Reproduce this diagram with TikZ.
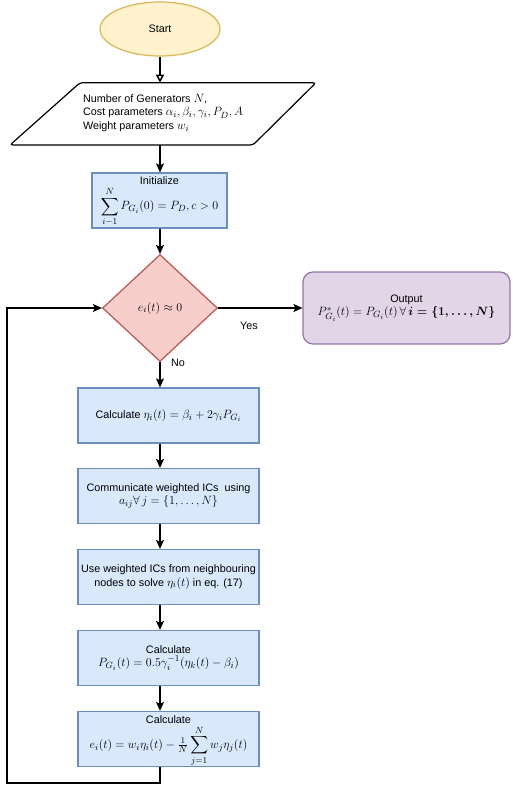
\documentclass[tikz,border=0pt]{standalone}
\usepackage{fontspec}
\setmainfont{Liberation Sans}
\usepackage{amsmath}
\usepackage{amssymb}
\DeclareMathSizes{10.8}{12.4}{9}{7}
\usetikzlibrary{shapes.geometric, arrows.meta, positioning, calc}
\definecolor{startfill}{HTML}{FFF2CC}
\definecolor{startline}{HTML}{D6B656}
\definecolor{procfill}{HTML}{DAE8FC}
\definecolor{procline}{HTML}{6C8EBF}
\definecolor{decfill}{HTML}{F8CECC}
\definecolor{decline}{HTML}{B85450}
\definecolor{outfill}{HTML}{E1D5E7}
\definecolor{outline}{HTML}{9673A6}

\begin{document}
\begin{tikzpicture}[x=1pt, y=1pt,
        txt/.style={font=\fontsize{10.8}{13.5}\selectfont, align=center, inner sep=0pt},
        terminal/.style={ellipse, draw=startline, fill=startfill, line width=1.2pt, minimum width=120pt, minimum height=54pt, txt},
        proc/.style={rectangle, draw=procline, fill=procfill, line width=1.2pt, minimum width=181pt, minimum height=55pt, txt},
        decision/.style={diamond, draw=decline, fill=decfill, line width=1.2pt, minimum width=115pt, minimum height=107pt, txt},
        result/.style={rectangle, rounded corners=10pt, draw=outline, fill=outfill, line width=1.2pt, minimum width=207pt, minimum height=72pt, txt},
        arrow/.style={-{Stealth[length=9pt, width=8pt, inset=2pt]}, line width=1.5pt},
        openarrow/.style={-{Triangle[open, length=8pt, width=8pt]}, line width=1.5pt}
    ]
        \useasboundingbox (0,0) rectangle (512,-793);

        % Start
        \node[terminal] (start) at (160,-29) {Start};

        % Input data (parallelogram)
        \coordinate (intop) at (160,-82.7);
        \coordinate (inbot) at (160,-145);
        \draw[black, line width=1.2pt, rounded corners=3pt] (80,-82.7) -- (316,-82.7) -- (253,-145) -- (10,-145) -- cycle;
        \node[txt, align=left] (input) at (163,-113) {Number of Generators $N$,\\
            Cost parameters $\alpha_i, \beta_i, \gamma_i, P_D, A$\\
            Weight parameters $w_i$};

        % Initialize
        \node[proc, minimum width=135pt] (init) at (159.5,-200.5) {};
        \node[txt] (initlbl) at (159.5,-180.5) {Initialize};
        \node[txt] (initeq) at (159.5,-207) {$\displaystyle\sum_{i-1}^{N} P_{G_i}(0) = P_D, c > 0$};

        % Stopping test
        \node[decision] (test) at (160,-308) {$e_i(t) \approx 0$};

        % Output
        \node[result] (out) at (406.5,-308) {Output\\
            $P^*_{G_i}(t) = P_{G_i}(t)\, \forall\, \boldsymbol{i = \{1, \ldots, N\}}$};

        % Iteration steps
        \node[proc] (calc1) at (168.5,-415.5) {Calculate $\eta_i(t) = \beta_i + 2\gamma_i P_{G_i}$};
        \node[proc] (comm) at (168.5,-496) {Communicate weighted ICs~ using\\
            $a_{ij} \forall\, j = \{1, \ldots, N\}$};
        \node[proc] (solve) at (168.5,-577) {Use weighted ICs from neighbouring\\
            nodes to solve $\eta_i(t)$ in eq. (17)};
        \node[proc] (calc2) at (168.5,-658) {Calculate\\
            $P_{G_i}(t) = 0.5\gamma_i^{-1}(\eta_k(t) - \beta_i)$};
        \node[proc] (calc3) at (168.5,-739) {};
        \node[txt] (calc3lbl) at (168.5,-719.5) {Calculate};
        \node[txt] (calc3eq) at (168.5,-746) {$e_i(t) = w_i\eta_i(t) - \frac{1}{N}\displaystyle\sum_{j=1}^{N} w_j\eta_j(t)$};

        % Loop back
        \coordinate (loop) at (7,-783);
        \draw[arrow] (calc3.south -| test.south) |- (loop) |- (test.west);

        % Connectors
        \draw[openarrow] (start.south) -- (intop);
        \draw[arrow] (inbot) -- (init.north -| inbot);
        \draw[arrow] (init.south -| test.north) -- (test.north);
        \draw[arrow] (test.east) -- (out.west);
        \node[txt] at (249,-326) {Yes};
        \draw[arrow] (test.south) -- (calc1.north -| test.south);
        \node[txt] at (178,-363) {No};
        \draw[arrow] (calc1.south -| test.south) -- (comm.north -| test.south);
        \draw[arrow] (comm.south -| test.south) -- (solve.north -| test.south);
        \draw[arrow] (solve.south -| test.south) -- (calc2.north -| test.south);
        \draw[arrow] (calc2.south -| test.south) -- (calc3.north -| test.south);

    \end{tikzpicture}
\end{document}
